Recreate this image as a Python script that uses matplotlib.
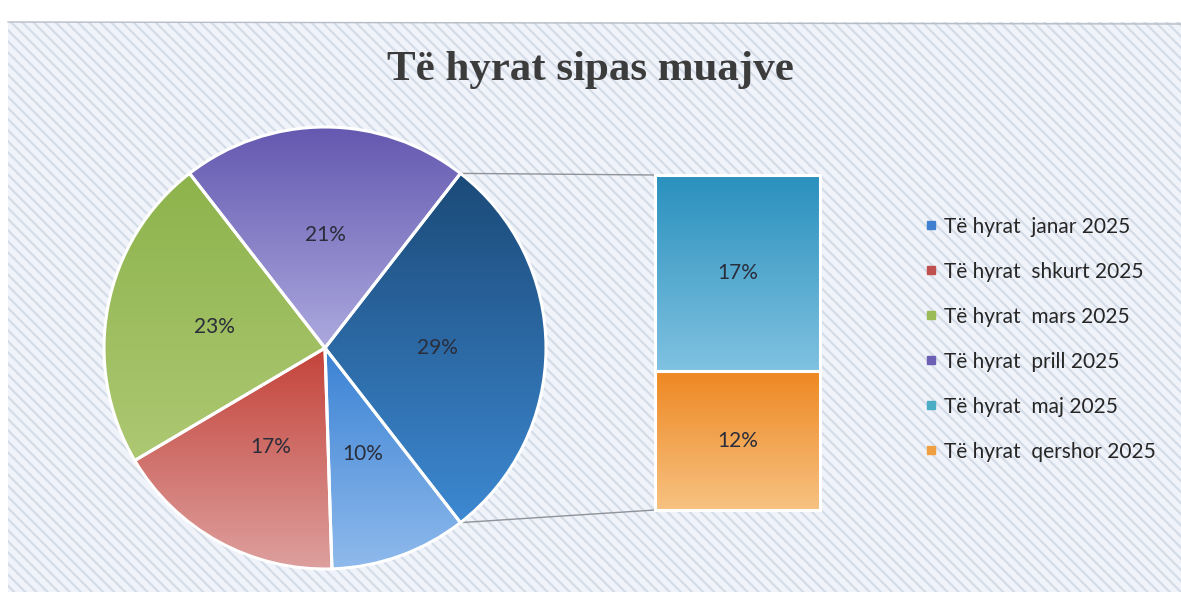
import numpy as np
import matplotlib
matplotlib.use('Agg')
import matplotlib.pyplot as plt
import matplotlib.patches as patches
from matplotlib.colors import LinearSegmentedColormap
from matplotlib.lines import Line2D

# data
months = ['janar', 'shkurt', 'mars', 'prill', 'maj', 'qershor']
shares = [10, 17, 23, 21, 17, 12]
n_in_pie = 4  # last two months go into the bar ("other" slice)

title = 'Të hyrat sipas muajve'
legend_labels = [f'Të hyrat  {m} 2025' for m in months]

# colours (top, bottom) of each gradient
grad_colors = {
    'janar': ('#3a82d4', '#8fbaec'),
    'shkurt': ('#c4433a', '#dda09e'),
    'mars': ('#8db34c', '#adc872'),
    'prill': ('#6458b0', '#aca9de'),
    'other': ('#1b4a78', '#3d89d2'),
    'maj': ('#2990bd', '#80c2e1'),
    'qershor': ('#ee8822', '#f7c282'),
}
legend_colors = ['#3f7fcf', '#c0504d', '#9bbb59', '#6b5fb3', '#4bacc6', '#f0a040']
label_font = ['Lato', 'DejaVu Sans']

W, H = 1181, 596
fig = plt.figure(figsize=(W / 100, H / 100), dpi=100)
fig.patch.set_facecolor('white')
ax = fig.add_axes([0, 0, 1, 1])
ax.set_xlim(0, W)
ax.set_ylim(0, H)
ax.axis('off')

# striped chart background
plt.rcParams['hatch.linewidth'] = 1.6
plt.rcParams['hatch.color'] = '#d4dce8'
bg = patches.Rectangle((8, 4), W - 8, 570, facecolor='#f0f3f9',
                       edgecolor='#d4dce8', hatch='\\\\\\', linewidth=0, zorder=0)
ax.add_patch(bg)
ax.plot([8, W], [574, 572], color='#b8bcc4', lw=1.0, zorder=1)


def gradient_fill(patch, top, bottom, extent, z):
    cmap = LinearSegmentedColormap.from_list('g', [bottom, top])
    grad = np.linspace(0, 1, 256).reshape(-1, 1)
    im = ax.imshow(grad, cmap=cmap, extent=extent, origin='lower',
                   aspect='auto', zorder=z, interpolation='bilinear')
    im.set_clip_path(patch)
    return im


# pie: four months + the "other" slice
other = sum(shares[n_in_pie:])
pie_vals = shares[:n_in_pie] + [other]
pie_keys = months[:n_in_pie] + ['other']
center = (325, 248)
radius = 221
# clockwise; centre the "other" slice on the right (0 deg)
start = -180 * other / sum(pie_vals)

wedges, texts, autotexts = ax.pie(
    pie_vals, center=center, radius=radius, startangle=start, counterclock=False,
    colors=[grad_colors[k][0] for k in pie_keys],
    autopct=lambda p: f'{p:.0f}%', pctdistance=0.51,
    wedgeprops=dict(edgecolor='white', linewidth=2.2),
    textprops=dict(fontsize=15, color='#2a2d3a', family=label_font),
    frame=True)
for w, k in zip(wedges, pie_keys):
    w.set_zorder(3)
    w.set_facecolor('none')
    ext = w.get_path().get_extents()
    gradient_fill(w, grad_colors[k][0], grad_colors[k][1],
                  (ext.x0, ext.x1, ext.y0, ext.y1), 2)
for t in autotexts:
    t.set_zorder(5)

# bar for the "other" slice
bar_x, bar_w = 737.5, 165
bar_bottom, bar_top = 86, 421
scale = (bar_top - bar_bottom) / other
bar_months = months[n_in_pie:][::-1]
bar_vals = shares[n_in_pie:][::-1]
bottom = bar_bottom
for m, v in zip(bar_months, bar_vals):
    b = ax.bar(bar_x, v * scale, width=bar_w, bottom=bottom, facecolor='none',
               edgecolor='white', linewidth=2.2, zorder=3)[0]
    gradient_fill(b, grad_colors[m][0], grad_colors[m][1],
                  (bar_x - bar_w / 2, bar_x + bar_w / 2, bottom, bottom + v * scale), 2)
    ax.text(bar_x, bottom + v * scale / 2, f'{v}%', ha='center', va='center',
            fontsize=15, color='#2a2d3a', family=label_font, zorder=5)
    bottom += v * scale

# connector lines from the "other" slice to the bar
ow = wedges[-1]
for ang, y in [(ow.theta2, bar_top), (ow.theta1, bar_bottom)]:
    px = center[0] + radius * np.cos(np.radians(ang))
    py = center[1] + radius * np.sin(np.radians(ang))
    ax.plot([px, bar_x - bar_w / 2], [py, y], color='#8f9298', lw=1.0, zorder=1.5)

# legend
handles = [Line2D([], [], marker='s', linestyle='none', markersize=5.5,
                  markerfacecolor=c, markeredgecolor=c) for c in legend_colors]
leg = ax.legend(handles, legend_labels, loc='upper left',
                bbox_to_anchor=(904 / W, 1 - 198 / H), frameon=False,
                prop=dict(family=label_font, size=15),
                labelspacing=1.2, handletextpad=0.2, handlelength=0.8,
                labelcolor='#262626')

fig.text(0.5, 1 - 70 / H, title, ha='center', va='center', fontsize=31,
         fontweight='bold', color='#3c3c3c', family=['Liberation Serif', 'DejaVu Serif'])

ax.set_xlim(0, W)
ax.set_ylim(0, H)
fig.savefig('out.png', dpi=100, facecolor='white')
